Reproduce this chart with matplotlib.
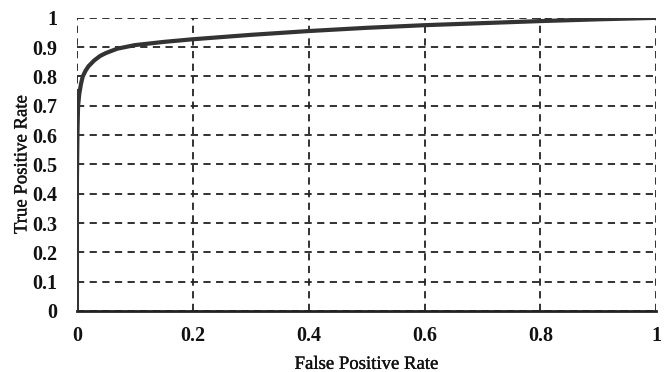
import matplotlib
matplotlib.use("Agg")
import matplotlib.pyplot as plt
import matplotlib.patheffects as pe

fpr = [0.0, 0.0, 0.001, 0.002, 0.004, 0.007, 0.01, 0.015, 0.02, 0.03, 0.04, 0.05, 0.07, 0.1, 0.15, 0.2, 0.3, 0.4, 0.5, 0.6, 0.7, 0.8, 0.9, 1.0]
tpr = [0.0, 0.45, 0.62, 0.7, 0.74, 0.775, 0.8, 0.82, 0.835, 0.855, 0.87, 0.88, 0.895, 0.907, 0.918, 0.927, 0.942, 0.955, 0.966, 0.975, 0.982, 0.989, 0.995, 1.0]
xticks = [0, 0.2, 0.4, 0.6, 0.8, 1]
yticks = [0, 0.1, 0.2, 0.3, 0.4, 0.5, 0.6, 0.7, 0.8, 0.9, 1]

plt.rcParams['font.family'] = ['Liberation Serif', 'DejaVu Serif']

fig = plt.figure(figsize=(6.69, 3.72), dpi=100)
ax = fig.add_axes([0.115, 0.164, 0.866, 0.788])

for v in xticks:
    ax.axvline(v, color='#222222', lw=1.3, ls=(0, (4, 3)), zorder=1)
for v in yticks:
    ax.axhline(v, color='#222222', lw=1.3, ls=(0, (4, 3)), zorder=1)

ax.plot(fpr, tpr, color='#333333', lw=3, zorder=3, solid_capstyle='butt')

ax.set_xlim(0, 1)
ax.set_ylim(0, 1)
ax.set_xticks(xticks)
ax.set_xticklabels(['0', '0.2', '0.4', '0.6', '0.8', '1'])
ax.set_yticks(yticks)
ax.set_yticklabels(['0', '0.1', '0.2', '0.3', '0.4', '0.5', '0.6', '0.7', '0.8', '0.9', '1'])
for s in ['top', 'right', 'left']:
    ax.spines[s].set_visible(False)
ax.spines['bottom'].set_linewidth(2)
ax.spines['bottom'].set_color('#222222')
ax.tick_params(length=0, labelsize=14.5, pad=11, colors='#111111')
ax.tick_params(axis='y', pad=14)
for lab in ax.get_xticklabels() + ax.get_yticklabels():
    lab.set_fontweight('bold')
stroke = [pe.withStroke(linewidth=0.25, foreground='#111111')]
ax.set_xlabel('False Positive Rate', fontsize=13.5, color='#111111', path_effects=stroke)
ax.set_ylabel('True Positive Rate', fontsize=13.5, color='#111111', path_effects=stroke)
ax.xaxis.set_label_coords(0.5, -0.182)
ax.yaxis.set_label_coords(-0.095, 0.5)
ax.xaxis.label.set_va('center')
ax.yaxis.label.set_va('center')

fig.savefig('out.png', dpi=100)
